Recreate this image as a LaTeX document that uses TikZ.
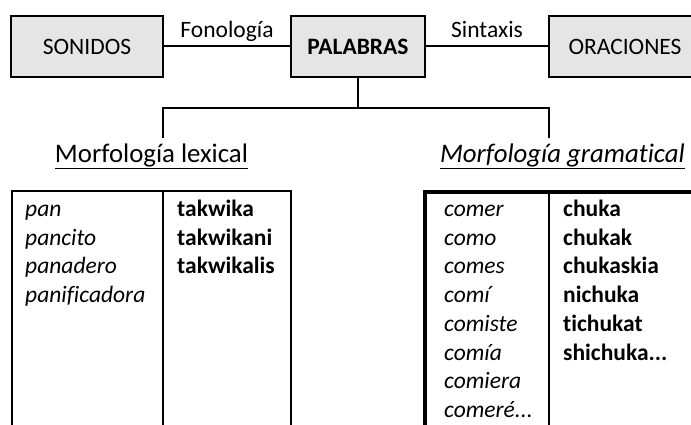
\documentclass[tikz,border=0pt]{standalone}
\usepackage{fontspec}
\setmainfont{Carlito}[Ligatures=NoCommon]
\usepackage{xcolor}
\usetikzlibrary{positioning,calc}
\definecolor{boxgray}{gray}{0.9}

\begin{document}
\begin{tikzpicture}[
  x=1pt, y=-1pt,
  font=\fontsize{23.5}{28.7}\selectfont,
  box/.style={
    draw=black,
    fill=boxgray,
    line width=2pt,
    minimum height=61pt,
    outer sep=0pt,
    inner sep=0pt
  },
  link/.style={line width=2pt, draw=black},
  rel/.style={midway, anchor=base, yshift=9pt, inner sep=0pt},
  head/.style={font=\fontsize{26.8}{32}\selectfont, anchor=base, inner sep=0pt},
  uline/.style={line width=1.5pt},
  cell/.style={anchor=base west, align=left, text width=130pt, inner sep=0pt},
  tabline/.style={line width=2pt},
  tabheavy/.style={line width=3.5pt}
]
\useasboundingbox (0,0) rectangle (691,425);

% ===== Level row =====
\node[box, minimum width=152pt]                    (son) at (87,46.5) {SONIDOS};
\node[box, minimum width=134pt, right=128pt of son] (pal) {\bfseries PALABRAS};
\node[box, minimum width=152pt, right=124pt of pal] (ora) {ORACIONES};

\draw[link] (son) -- node[rel] {Fonología} (pal);
\draw[link] (pal) -- node[rel] {Sintaxis} (ora);

% ===== Split into the two morphologies =====
\coordinate (split)    at ($(pal.south)+(0,31)$);
\coordinate (lexdrop)  at (163,138);
\coordinate (gramdrop) at (549,138);

\draw[link] (pal) -- (split);
\draw[link] (lexdrop) |- (split) -| (gramdrop);

\node[head] (lexhead)  at (151.5,162.5) {Morfología lexical};
\node[head] (gramhead) at (562.5,162.5) {\itshape Morfología gramatical};
\draw[uline] ([yshift=-6pt]lexhead.base west)  -- ([yshift=-6pt]lexhead.base east);
\draw[uline] ([yshift=-6pt]gramhead.base west) -- ([yshift=-6pt]gramhead.base east);

% ===== Tables =====
\draw[tabline] (12,425) |- (291,191) -- (291,425);
\draw[tabline] (163,191) -- (163,425);
\draw[tabheavy] (425,425) |- (700,192);
\draw[tabline] (549,192) -- (549,425);

\node[cell] (lexes)   at (25,216.5)  {\itshape pan\\pancito\\panadero\\panificadora};
\node[cell] (lexnah)  at (177,216.5) {\bfseries takwika\\takwikani\\takwikalis};
\node[cell] (gramesp) at (444,216.5) {\itshape comer\\como\\comes\\comí\\comiste\\comía\\comiera\\comeré...};
\node[cell] (gramnah) at (563,216.5) {\bfseries chuka\\chukak\\chukaskia\\nichuka\\tichukat\\shichuka...};

\end{tikzpicture}
\end{document}
